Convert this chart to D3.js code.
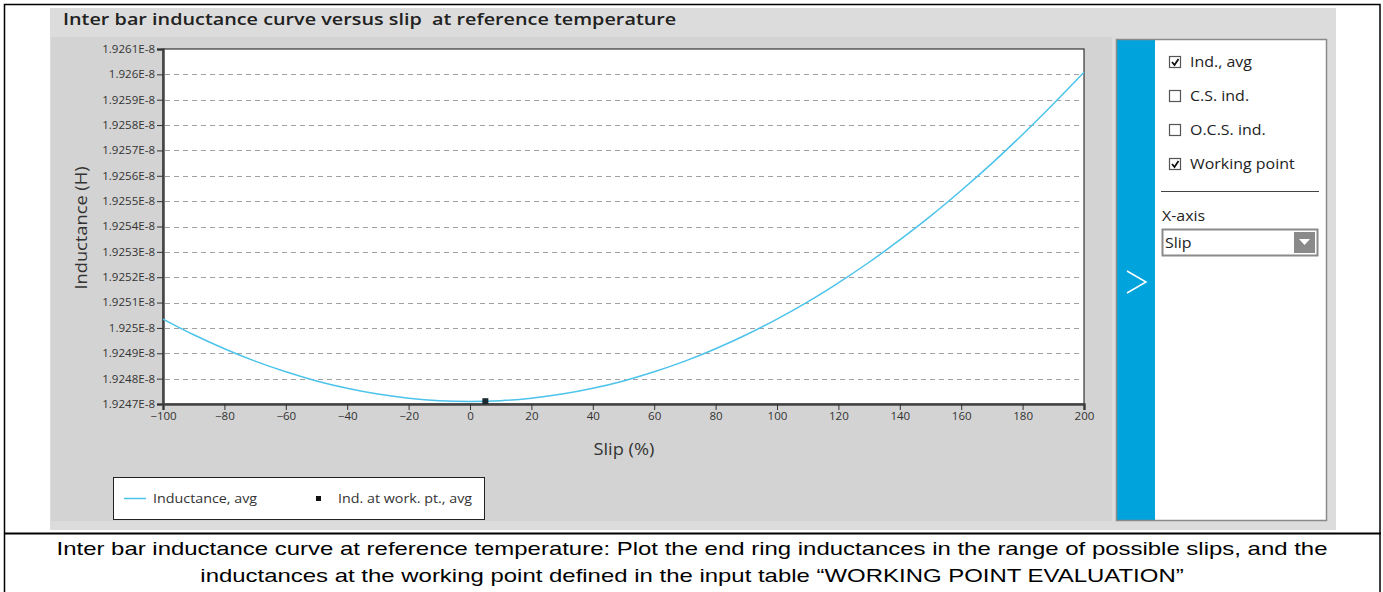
<!DOCTYPE html>
<html>
<head>
<meta charset="utf-8">
<script src="https://cdn.jsdelivr.net/npm/d3@7"></script>
<style>
  body { margin: 0; background: #fff; }
  svg { display: block; }
  text { font-family: "Open Sans", "DejaVu Sans", sans-serif; fill: #333; }
  .caption { font-family: "Liberation Sans", Arial, sans-serif; fill: #000; }
</style>
</head>
<body>
<svg id="chart" width="1383" height="592"></svg>
<script>
// slip (%) and average inter bar inductance (E-8 H)
var slip = [-100, -90, -80, -70, -60, -50, -40, -30, -20, -10, 0, 10, 20, 30, 40, 50,
            60, 70, 80, 90, 100, 110, 120, 130, 140, 150, 160, 170, 180, 190, 200];
var inductance = [1.925035, 1.924973, 1.924918, 1.924869, 1.924827, 1.924791, 1.924762,
                  1.924739, 1.924723, 1.924713, 1.924710, 1.924713, 1.924723, 1.924739,
                  1.924762, 1.924791, 1.924827, 1.924869, 1.924918, 1.924973, 1.925035,
                  1.925103, 1.925178, 1.925259, 1.925347, 1.925441, 1.925542, 1.925649,
                  1.925763, 1.925883, 1.926008];
var workSlip = [5];
var workInd = [1.924711];

var yTicks = [1.9247, 1.9248, 1.9249, 1.925, 1.9251, 1.9252, 1.9253, 1.9254,
              1.9255, 1.9256, 1.9257, 1.9258, 1.9259, 1.926, 1.9261];
var xTicks = [-100, -80, -60, -40, -20, 0, 20, 40, 60, 80, 100, 120, 140, 160, 180, 200];
var legendItems = ["Inductance, avg", "Ind. at work. pt., avg"];
var options = [{label: "Ind., avg", on: true}, {label: "C.S. ind.", on: false},
               {label: "O.C.S. ind.", on: false}, {label: "Working point", on: true}];

var svg = d3.select("#chart");

// the screenshot is a bit wider than tall, so text is stretched sideways
function stretch(sel, k) {
    sel.each(function () {
        var l = this.getComputedTextLength();
        d3.select(this).attr("textLength", l * k).attr("lengthAdjust", "spacingAndGlyphs");
    });
}

// outer table frame and caption row
svg.append("rect").attr("x", 4.5).attr("y", 4.5).attr("width", 1375.5).attr("height", 600)
    .attr("fill", "none").attr("stroke", "#000").attr("stroke-width", 1.5);
svg.append("line").attr("x1", 4).attr("x2", 1381).attr("y1", 533.5).attr("y2", 533.5)
    .attr("stroke", "#000").attr("stroke-width", 2);

// grey panel
svg.append("rect").attr("x", 50).attr("y", 8).attr("width", 1286).attr("height", 522).attr("fill", "#dcdcdc");
svg.append("rect").attr("x", 51).attr("y", 37).attr("width", 1061).attr("height", 484).attr("fill", "#d3d3d3");

svg.append("text").attr("x", 63).attr("y", 25).style("white-space", "pre")
    .style("font-size", "16.5px").style("font-weight", 600).style("fill", "#222")
    .text("Inter bar inductance curve versus slip  at reference temperature")
    .call(stretch, 1.2);

var plot = {left: 163, right: 1084, top: 49, bottom: 404};

var x = d3.scaleLinear().domain([-100, 200]).range([plot.left, plot.right]);
var y = d3.scaleLinear().domain([1.9247, 1.9261]).range([plot.bottom, plot.top]);

svg.append("rect").attr("x", plot.left).attr("y", plot.top)
    .attr("width", plot.right - plot.left).attr("height", plot.bottom - plot.top)
    .attr("fill", "#fff").attr("stroke", "#111").attr("stroke-width", 1);

// dashed grid
svg.append("g").selectAll("line")
    .data(yTicks.filter(function (d) { return d > 1.9247 && d < 1.9261; }))
    .enter().append("line")
    .attr("x1", plot.left + 2).attr("x2", plot.right - 2)
    .attr("y1", function (d) { return Math.round(y(d)) + 0.5; })
    .attr("y2", function (d) { return Math.round(y(d)) + 0.5; })
    .attr("stroke", "#a0a0a0").attr("stroke-width", 1).attr("stroke-dasharray", "5,4");

var yAxis = svg.append("g").attr("transform", "translate(" + plot.left + ",0)")
    .call(d3.axisLeft(y).tickValues(yTicks).tickSize(6).tickPadding(2)
        .tickFormat(function (d) { return d3.format("")(+d.toFixed(4)) + "E-8"; }));
var xAxis = svg.append("g").attr("transform", "translate(0," + plot.bottom + ")")
    .call(d3.axisBottom(x).tickValues(xTicks).tickSize(6).tickPadding(3));

[yAxis, xAxis].forEach(function (a) {
    a.select(".domain").attr("stroke", "#444").attr("stroke-width", 2.5);
    a.selectAll(".tick line").attr("stroke", "#333");
    a.selectAll(".tick text").style("font-size", "10.5px").style("fill", "#333")
        .style("font-family", "'Open Sans', sans-serif").call(stretch, 1.1);
});

// curve
var line = d3.line()
    .x(function (d, i) { return x(slip[i]); })
    .y(function (d) { return y(d); })
    .curve(d3.curveCatmullRom);
svg.append("path").datum(inductance).attr("d", line)
    .attr("fill", "none").attr("stroke", "#4cc3eb").attr("stroke-width", 1.5);

svg.append("g").selectAll("rect").data(workInd).enter().append("rect")
    .attr("x", function (d, i) { return x(workSlip[i]) - 3; })
    .attr("y", function (d) { return y(d) - 3; })
    .attr("width", 6).attr("height", 6).attr("fill", "#1b2a30");

// axis titles
svg.append("text").attr("transform", "translate(87,228) rotate(-90)")
    .attr("text-anchor", "middle").style("font-size", "16px").text("Inductance (H)")
    .call(stretch, 1.14);
svg.append("text").attr("x", 624).attr("y", 455)
    .attr("text-anchor", "middle").style("font-size", "16px").text("Slip (%)")
    .call(stretch, 1.14);

// legend
var lg = svg.append("g");
lg.append("rect").attr("x", 113.5).attr("y", 477.5).attr("width", 371).attr("height", 42)
    .attr("fill", "#fff").attr("stroke", "#222");
lg.append("line").attr("x1", 124).attr("x2", 146).attr("y1", 498.5).attr("y2", 498.5)
    .attr("stroke", "#4cc3eb").attr("stroke-width", 1.5);
lg.append("rect").attr("x", 316).attr("y", 496).attr("width", 5).attr("height", 5).attr("fill", "#111");
lg.selectAll("text").data(legendItems).enter().append("text")
    .attr("x", function (d, i) { return i === 0 ? 153 : 338; })
    .attr("y", 503).style("font-size", "13px").text(function (d) { return d; })
    .call(stretch, 1.1);

// side panel
svg.append("rect").attr("x", 1117).attr("y", 40).attr("width", 38).attr("height", 480).attr("fill", "#00a3dc");
svg.append("rect").attr("x", 1155).attr("y", 40).attr("width", 171).attr("height", 480).attr("fill", "#fff");
svg.append("rect").attr("x", 1116.5).attr("y", 39.5).attr("width", 210).attr("height", 481)
    .attr("fill", "none").attr("stroke", "#8a8a8a").attr("stroke-width", 1.5);
svg.append("path").attr("d", "M1127,271 L1146,282 L1127,293")
    .attr("fill", "none").attr("stroke", "#fff").attr("stroke-width", 1.5);

var opt = svg.append("g").selectAll("g").data(options).enter().append("g")
    .attr("transform", function (d, i) { return "translate(0," + (62 + i * 34) + ")"; });
opt.append("rect").attr("x", 1169.5).attr("y", -5.5).attr("width", 11).attr("height", 11)
    .attr("fill", "#fff").attr("stroke", "#555").attr("stroke-width", 1.2);
opt.filter(function (d) { return d.on; }).append("path")
    .attr("d", "M1172,0 L1174.5,3 L1178.5,-3")
    .attr("fill", "none").attr("stroke", "#111").attr("stroke-width", 1.8);
opt.append("text").attr("x", 1190).attr("y", 5).style("font-size", "14.5px").style("fill", "#222")
    .text(function (d) { return d.label; }).call(stretch, 1.1);

svg.append("line").attr("x1", 1161).attr("x2", 1319).attr("y1", 191.5).attr("y2", 191.5)
    .attr("stroke", "#444").attr("stroke-width", 1);
svg.append("text").attr("x", 1162).attr("y", 221).style("font-size", "14.5px").style("fill", "#222")
    .text("X-axis").call(stretch, 1.1);
svg.append("rect").attr("x", 1162.5).attr("y", 229.5).attr("width", 155).attr("height", 26)
    .attr("fill", "#fff").attr("stroke", "#8a8a8a").attr("stroke-width", 2);
svg.append("text").attr("x", 1165).attr("y", 248).style("font-size", "14.5px").style("fill", "#222")
    .text("Slip").call(stretch, 1.1);
svg.append("rect").attr("x", 1294).attr("y", 232).attr("width", 21).attr("height", 21).attr("fill", "#8a8a8a");
svg.append("path").attr("d", "M1299,239 L1310,239 L1304.5,245 Z").attr("fill", "#fff");

// caption
var caption = ["Inter bar inductance curve at reference temperature: Plot the end ring inductances in the range of possible slips, and the",
               "inductances at the working point defined in the input table \u201cWORKING POINT EVALUATION\u201d"];
svg.selectAll("text.caption").data(caption).enter().append("text").attr("class", "caption")
    .attr("x", 692).attr("y", function (d, i) { return 555 + i * 27; })
    .attr("text-anchor", "middle").style("font-size", "19px").text(function (d) { return d; })
    .call(stretch, 1.26);
</script>
</body>
</html>
